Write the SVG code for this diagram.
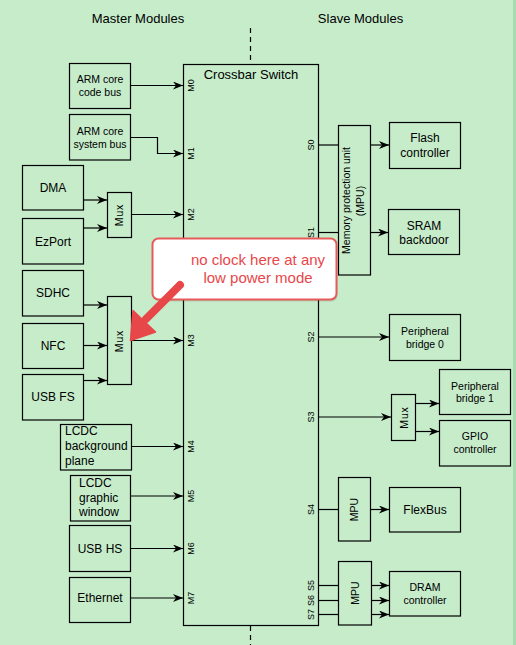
<svg xmlns="http://www.w3.org/2000/svg" width="516" height="645" viewBox="0 0 516 645">
<defs>
<marker id="ah" markerUnits="userSpaceOnUse" markerWidth="11" markerHeight="8" refX="10" refY="4" orient="auto">
<path d="M0,0 L10,4 L0,8 L3,4 z" fill="#000"/>
</marker>
<style>
.bx{fill:none;stroke:#000;stroke-width:1.2}
.t{font-family:"Liberation Sans",Arial,sans-serif;fill:#000;text-anchor:middle}
.s105{font-size:10.5px}
.s12{font-size:12px}
.s9{font-size:9px}
.hd{font-size:13px}
.l{text-anchor:start}
.cn line,.cn polyline{stroke:#000;stroke-width:1.2;fill:none}
.ar{marker-end:url(#ah)}
</style>
</defs>
<rect x="0" y="0" width="516" height="645" fill="#c6ecca"/>
<rect x="513" y="0" width="3" height="645" fill="#a9d9b1"/>

<g id="headers">
<text class="t hd" x="138" y="23">Master Modules</text>
<text class="t hd" x="360.5" y="23">Slave Modules</text>
<line x1="250.5" y1="28" x2="250.5" y2="64" stroke="#000" stroke-width="1.2" stroke-dasharray="5,4"/>
<line x1="250.5" y1="626" x2="250.5" y2="645" stroke="#000" stroke-width="1.2" stroke-dasharray="5,4"/>
</g>

<g id="crossbar">
<rect class="bx" x="183.5" y="64.5" width="135" height="561"/>
<text class="t hd" x="251" y="78.5">Crossbar Switch</text>
<text class="t s9" transform="translate(193.5,85.5) rotate(-90)">M0</text>
<text class="t s9" transform="translate(193.5,153.5) rotate(-90)">M1</text>
<text class="t s9" transform="translate(193.5,214.5) rotate(-90)">M2</text>
<text class="t s9" transform="translate(193.5,340.5) rotate(-90)">M3</text>
<text class="t s9" transform="translate(193.5,446.5) rotate(-90)">M4</text>
<text class="t s9" transform="translate(193.5,496) rotate(-90)">M5</text>
<text class="t s9" transform="translate(193.5,548.5) rotate(-90)">M6</text>
<text class="t s9" transform="translate(193.5,598) rotate(-90)">M7</text>
<text class="t s9" transform="translate(313.5,145) rotate(-90)">S0</text>
<text class="t s9" transform="translate(313.5,232.5) rotate(-90)">S1</text>
<text class="t s9" transform="translate(313.5,337) rotate(-90)">S2</text>
<text class="t s9" transform="translate(313.5,417) rotate(-90)">S3</text>
<text class="t s9" transform="translate(313.5,509.5) rotate(-90)">S4</text>
<text class="t s9" transform="translate(313.5,585.5) rotate(-90)">S5</text>
<text class="t s9" transform="translate(313.5,600.5) rotate(-90)">S6</text>
<text class="t s9" transform="translate(313.5,614.5) rotate(-90)">S7</text>
</g>

<g id="arm-code">
<rect class="bx" x="69.5" y="63.5" width="61" height="45"/>
<text class="t s105" x="100" y="83">ARM core</text>
<text class="t s105" x="100" y="96">code bus</text>
</g>
<g id="arm-system">
<rect class="bx" x="69.5" y="114.5" width="61" height="45.5"/>
<text class="t s105" x="100" y="135">ARM core</text>
<text class="t s105" x="100" y="147.5">system bus</text>
</g>
<g id="dma">
<rect class="bx" x="22.5" y="165.5" width="61" height="44.5"/>
<text class="t s12" x="53" y="192">DMA</text>
</g>
<g id="ezport">
<rect class="bx" x="22.5" y="218.5" width="61" height="45.5"/>
<text class="t s12" x="53" y="245.5">EzPort</text>
</g>
<g id="mux-m2">
<rect class="bx" x="107.5" y="192.5" width="24" height="45"/>
<text class="t s105" letter-spacing="0.8" transform="translate(123,215) rotate(-90)">Mux</text>
</g>
<g id="sdhc">
<rect class="bx" x="22.5" y="270.5" width="61" height="45.5"/>
<text class="t s12" x="53" y="297">SDHC</text>
</g>
<g id="nfc">
<rect class="bx" x="22.5" y="323.5" width="61" height="45"/>
<text class="t s12" x="53" y="350">NFC</text>
</g>
<g id="usbfs">
<rect class="bx" x="22.5" y="374.5" width="61" height="45.5"/>
<text class="t s12" x="53" y="401">USB FS</text>
</g>
<g id="mux-m3">
<rect class="bx" x="107.5" y="296.5" width="24" height="88"/>
<text class="t s105" letter-spacing="0.8" transform="translate(123,341) rotate(-90)">Mux</text>
</g>
<g id="lcdc-bg">
<rect class="bx" x="60.5" y="424.5" width="71" height="45.5"/>
<text class="t s12 l" x="65" y="435">LCDC</text>
<text class="t s12 l" x="65" y="449.5">background</text>
<text class="t s12 l" x="65" y="464.5">plane</text>
</g>
<g id="lcdc-gw">
<rect class="bx" x="70.5" y="475.5" width="60" height="45.5"/>
<text class="t s12 l" x="79" y="486.5">LCDC</text>
<text class="t s12 l" x="79" y="501.5">graphic</text>
<text class="t s12 l" x="79" y="516">window</text>
</g>
<g id="usbhs">
<rect class="bx" x="69.5" y="525.5" width="61" height="46"/>
<text class="t s12" x="100" y="553">USB HS</text>
</g>
<g id="ethernet">
<rect class="bx" x="69.5" y="577.5" width="61" height="45"/>
<text class="t s12" x="100" y="602">Ethernet</text>
</g>

<g id="mpu-main">
<rect class="bx" x="338.5" y="125.5" width="32" height="149.5"/>
<text class="t s105" transform="translate(349.5,200.5) rotate(-90)">Memory protection unit</text>
<text class="t s105" transform="translate(364,201) rotate(-90)">(MPU)</text>
</g>
<g id="flash">
<rect class="bx" x="389.5" y="122.5" width="71" height="46"/>
<text class="t s12" x="425" y="142">Flash</text>
<text class="t s12" x="425" y="156.5">controller</text>
</g>
<g id="sram">
<rect class="bx" x="388.5" y="209.5" width="71" height="45"/>
<text class="t s12" x="424" y="229.5">SRAM</text>
<text class="t s12" x="424" y="244">backdoor</text>
</g>
<g id="pb0">
<rect class="bx" x="389.5" y="314.5" width="71" height="46"/>
<text class="t s105" x="425" y="335">Peripheral</text>
<text class="t s105" x="425" y="348">bridge 0</text>
</g>
<g id="mux-s3">
<rect class="bx" x="391.5" y="394.5" width="24" height="46"/>
<text class="t s105" letter-spacing="0.8" transform="translate(408,417.5) rotate(-90)">Mux</text>
</g>
<g id="pb1">
<rect class="bx" x="439.5" y="369.5" width="71" height="45"/>
<text class="t s105" x="475" y="389.5">Peripheral</text>
<text class="t s105" x="475" y="402">bridge 1</text>
</g>
<g id="gpio">
<rect class="bx" x="439.5" y="420.5" width="71" height="45.5"/>
<text class="t s105" x="475" y="440">GPIO</text>
<text class="t s105" x="475" y="453">controller</text>
</g>
<g id="mpu-s4">
<rect class="bx" x="338.5" y="477.5" width="32" height="63.5"/>
<text class="t s105" transform="translate(358,509.5) rotate(-90)">MPU</text>
</g>
<g id="flexbus">
<rect class="bx" x="389.5" y="487.5" width="71" height="44.5"/>
<text class="t s12" x="425" y="514">FlexBus</text>
</g>
<g id="mpu-s5">
<rect class="bx" x="338.5" y="561.5" width="33" height="63.5"/>
<text class="t s105" transform="translate(358.5,593) rotate(-90)">MPU</text>
</g>
<g id="dram">
<rect class="bx" x="389.5" y="571.5" width="71" height="44.5"/>
<text class="t s105" x="425" y="591">DRAM</text>
<text class="t s105" x="425" y="604">controller</text>
</g>

<g id="connectors" class="cn">
<line class="ar" x1="130.5" y1="85.5" x2="183" y2="85.5"/>
<polyline class="ar" points="130.5,137.5 157.5,137.5 157.5,153.5 183,153.5"/>
<line class="ar" x1="83.5" y1="200" x2="107" y2="200"/>
<line class="ar" x1="83.5" y1="228" x2="107" y2="228"/>
<line class="ar" x1="131.5" y1="214.5" x2="183" y2="214.5"/>
<line class="ar" x1="83.5" y1="305" x2="107" y2="305"/>
<line class="ar" x1="83.5" y1="345.5" x2="107" y2="345.5"/>
<line class="ar" x1="83.5" y1="380.5" x2="107" y2="380.5"/>
<line class="ar" x1="131.5" y1="340.5" x2="183" y2="340.5"/>
<line class="ar" x1="131.5" y1="446.5" x2="183" y2="446.5"/>
<line class="ar" x1="130.5" y1="496" x2="183" y2="496"/>
<line class="ar" x1="130.5" y1="548.5" x2="183" y2="548.5"/>
<line class="ar" x1="130.5" y1="598" x2="183" y2="598"/>
<line x1="318.5" y1="145" x2="338.5" y2="145"/>
<line class="ar" x1="370.5" y1="145" x2="389" y2="145"/>
<line x1="318.5" y1="232.5" x2="338.5" y2="232.5"/>
<line class="ar" x1="370.5" y1="232.5" x2="388" y2="232.5"/>
<line class="ar" x1="318.5" y1="337" x2="389" y2="337"/>
<line class="ar" x1="318.5" y1="417" x2="391" y2="417"/>
<line class="ar" x1="415.5" y1="403.5" x2="439" y2="403.5"/>
<line class="ar" x1="415.5" y1="431.5" x2="439" y2="431.5"/>
<line x1="318.5" y1="509.5" x2="338.5" y2="509.5"/>
<line class="ar" x1="370.5" y1="509.5" x2="389" y2="509.5"/>
<line x1="318.5" y1="585.5" x2="338.5" y2="585.5"/>
<line x1="318.5" y1="600.5" x2="338.5" y2="600.5"/>
<line x1="318.5" y1="614.5" x2="338.5" y2="614.5"/>
<line class="ar" x1="371.5" y1="585.5" x2="389" y2="585.5"/>
<line class="ar" x1="371.5" y1="600.5" x2="389" y2="600.5"/>
<line class="ar" x1="371.5" y1="614.5" x2="389" y2="614.5"/>
</g>

<g id="callout">
<rect x="153.5" y="240.5" width="184" height="61" rx="6" fill="#000" opacity="0.12"/>
<rect x="152.5" y="238.5" width="184" height="61" rx="6" fill="#fff" stroke="#e85a5a" stroke-width="2"/>
<text class="t" x="258" y="265" font-size="15px" fill="#e8474a" style="fill:#e8474a">no clock here at any</text>
<text class="t" x="258" y="283" font-size="15px" fill="#e8474a" style="fill:#e8474a">low power mode</text>
<line x1="180" y1="285" x2="146" y2="319" stroke="#e8474a" stroke-width="8" stroke-linecap="round"/>
<polygon points="133,310.5 155.5,332 130.5,340.5" fill="#e8474a" stroke="#e8474a" stroke-width="1.5" stroke-linejoin="round"/>
</g>
</svg>
